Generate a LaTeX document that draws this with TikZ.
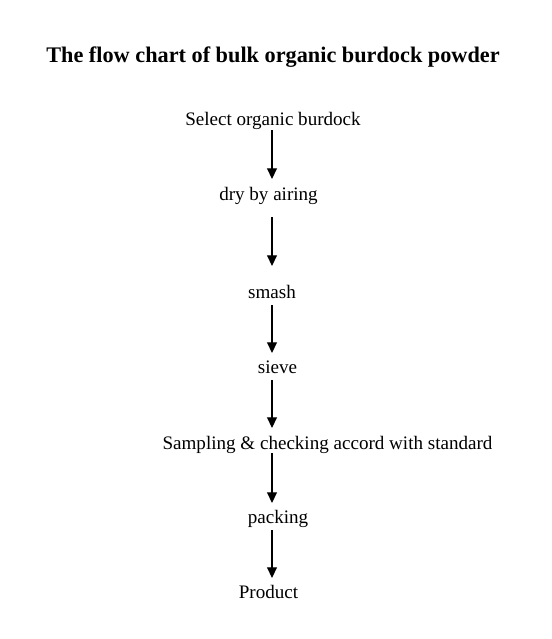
\documentclass[tikz,border=0pt]{standalone}
\usepackage{fontspec}
\setmainfont{Liberation Serif}
\usetikzlibrary{arrows.meta,calc}
\begin{document}
\begin{tikzpicture}[x=0.75pt,y=-0.75pt,
  lbl/.style={anchor=south,inner sep=0pt,outer sep=0pt,text height=9.5pt,text depth=0pt,font=\fontsize{14.3}{17}\selectfont},
  ttl/.style={anchor=south,inner sep=0pt,outer sep=0pt,text height=11pt,text depth=0pt,font=\fontsize{16.7}{20}\selectfont\bfseries},
  arr/.style={line width=0.9pt,-{Triangle[length=8pt,width=7.5pt]}}]
\useasboundingbox (0,0) rectangle (551,639);
\fill[white] (0,0) rectangle (551,639);
\coordinate (ax) at (272,0);
\node[ttl] (title) at (273,62) {The flow chart of bulk organic burdock powder};
\node[lbl] (s1) at (273,125) {Select organic burdock};
\node[lbl] (s2) at (268.5,200) {dry by airing};
\node[lbl] (s3) at (272,298) {smash};
\node[lbl] (s4) at (277.5,373) {sieve};
\node[lbl] (s5) at (327.5,449) {Sampling \& checking accord with standard};
\node[lbl] (s6) at (278,523) {packing};
\node[lbl] (s7) at (268.5,598) {Product};
\draw[arr] ($(s1.south -| ax)+(0,5)$) -- ($(s2.north -| ax)+(0,-8.4)$);
\draw[arr] ($(s2.south -| ax)+(0,17)$) -- ($(s3.north -| ax)+(0,-19.4)$);
\draw[arr] ($(s3.south -| ax)+(0,7)$) -- ($(s4.north -| ax)+(0,-7.4)$);
\draw[arr] ($(s4.south -| ax)+(0,7)$) -- ($(s5.north -| ax)+(0,-8.4)$);
\draw[arr] ($(s5.south -| ax)+(0,4)$) -- ($(s6.north -| ax)+(0,-7.4)$);
\draw[arr] ($(s6.south -| ax)+(0,7)$) -- ($(s7.north -| ax)+(0,-7.4)$);
\end{tikzpicture}
\end{document}
